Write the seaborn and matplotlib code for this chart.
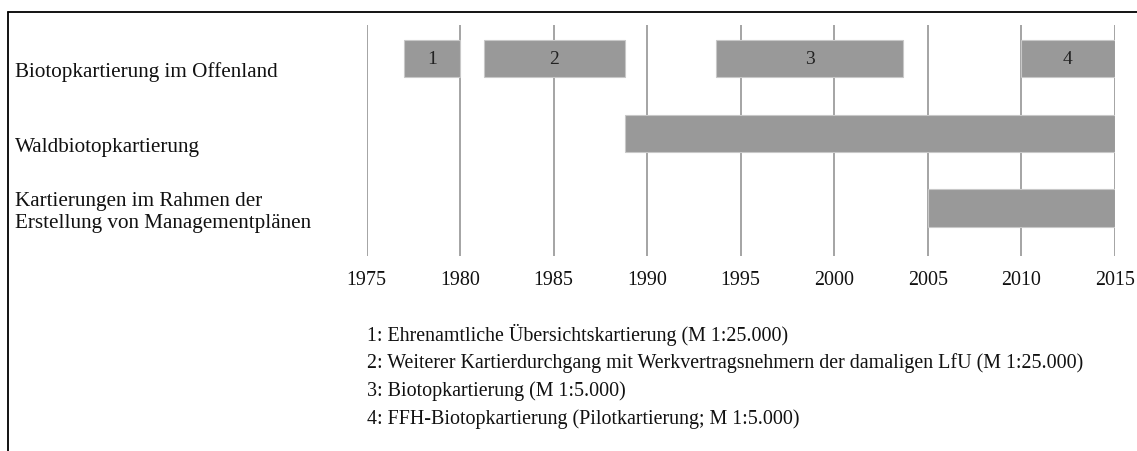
import matplotlib
matplotlib.use("Agg")
import matplotlib.pyplot as plt
from matplotlib.lines import Line2D
import seaborn as sns
import pandas as pd

# ---- data ----
row_labels = ["Biotopkartierung im Offenland",
              "Waldbiotopkartierung",
              "Kartierungen im Rahmen der\nErstellung von Managementplänen"]
seg_row = [0, 0, 0, 0, 1, 2]
seg_start = [1977.0, 1981.25, 1993.7, 2010.0, 1988.8, 2005.0]
seg_end = [1980.0, 1988.8, 2003.7, 2015.0, 2015.0, 2015.0]
seg_label = ["1", "2", "3", "4", "", ""]
year_ticks = [1975, 1980, 1985, 1990, 1995, 2000, 2005, 2010, 2015]
notes = ["1: Ehrenamtliche Übersichtskartierung (M 1:25.000)",
         "2: Weiterer Kartierdurchgang mit Werkvertragsnehmern der damaligen LfU (M 1:25.000)",
         "3: Biotopkartierung (M 1:5.000)",
         "4: FFH-Biotopkartierung (Pilotkartierung; M 1:5.000)"]

df = pd.DataFrame({"row": seg_row, "start": seg_start, "end": seg_end, "label": seg_label})
df["dur"] = df["end"] - df["start"]

sns.set_theme(style="white")
plt.rcParams["font.family"] = ["Liberation Serif", "DejaVu Serif"]

W, H = 1137, 452
fig = plt.figure(figsize=(W / 100, H / 100), dpi=100)
ax = fig.add_axes([366.7 / W, 1 - 257.3 / H, (1114.7 - 366.7) / W, (257.3 - 26) / H])

for x in year_ticks:
    ax.axvline(x, color="#8c8c8c", lw=1.1, zorder=1)

ax.barh(df["row"], df["dur"], left=df["start"], height=0.5,
        color="#999999", edgecolor="#c8c8c8", linewidth=0.8, zorder=2)
for _, r in df.iterrows():
    if r["label"]:
        ax.text((r["start"] + r["end"]) / 2, r["row"], r["label"],
                ha="center", va="center", fontsize=14, color="#222222", zorder=3)

ax.set_xlim(1975, 2015)
ax.set_ylim(2.648, -0.448)
ax.set_xticks(year_ticks)
ax.set_xticklabels([str(y) for y in year_ticks], fontsize=14.4)
# row labels sit slightly below bar centres in the original layout
label_offset = [0.13, 0.15, 0.0]
ax.set_yticks([i + o for i, o in enumerate(label_offset)])
ax.set_yticklabels(row_labels, fontsize=15.2, ha="left")
ax.tick_params(axis="x", length=0, pad=10, colors="#111111")
ax.tick_params(axis="y", length=0, pad=(366.7 - 15) * 0.72, colors="#111111")
for s in ax.spines.values():
    s.set_visible(False)

ys = [335, 363.5, 391.5, 419.5]
for t, y in zip(notes, ys):
    fig.text(367 / W, 1 - y / H, t, ha="left", va="center", fontsize=14.4, color="#111111")

# frame lines (top and left)
fig.add_artist(Line2D([8 / W, 1.0], [1 - 13 / H, 1 - 13 / H], color="black", lw=1.3))
fig.add_artist(Line2D([8 / W, 8 / W], [1 - 13 / H, 0.0], color="black", lw=1.3))

fig.savefig("out.png", dpi=100)
